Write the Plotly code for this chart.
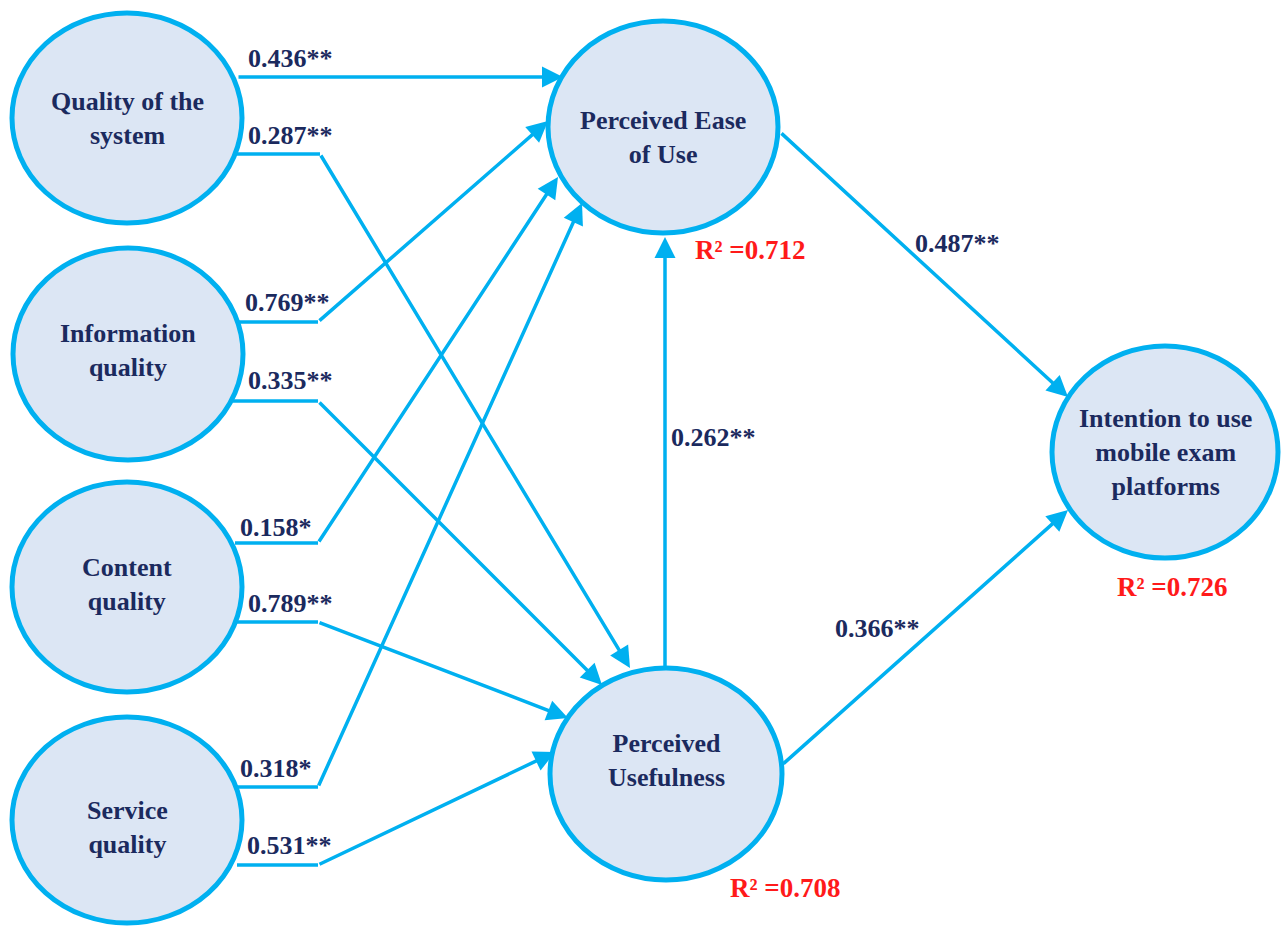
import plotly.graph_objects as go

# ---------------- data ----------------
node_names = ["QS", "IQ", "CQ", "SQ", "PEU", "PU", "INT"]
node_labels = ["Quality of the<br>system", "Information<br>quality", "Content<br>quality",
               "Service<br>quality", "Perceived Ease<br>of Use", "Perceived<br>Usefulness",
               "Intention to use<br>mobile exam<br>platforms"]
path_sources = ["QS", "QS", "IQ", "IQ", "CQ", "CQ", "SQ", "SQ", "PU", "PEU", "PU"]
path_targets = ["PEU", "PU", "PEU", "PU", "PEU", "PU", "PEU", "PU", "PEU", "INT", "INT"]
path_coefs = ["0.436**", "0.287**", "0.769**", "0.335**", "0.158*", "0.789**",
              "0.318*", "0.531**", "0.262**", "0.487**", "0.366**"]
r2_nodes = ["PEU", "PU", "INT"]
r2_values = ["0.712", "0.708", "0.726"]

# ---------------- layout geometry (pixels) ----------------
W, H = 1285, 927
node_geom = {  # cx, cy, rx, ry, text_cy
    "QS": (127, 118, 115, 105, 118),
    "IQ": (128, 354, 115, 106, 350),
    "CQ": (127, 587, 115, 105, 584),
    "SQ": (127, 820, 115, 103, 827),
    "PEU": (663, 127, 115, 106, 137),
    "PU": (666, 774, 116, 106, 760),
    "INT": (1165, 452, 113, 106, 452),
}
path_points = [
    [(237, 77), (563, 77)],
    [(237, 154), (320, 154), (630, 668)],
    [(237, 322), (318, 322), (548, 121)],
    [(233, 401), (318, 401), (602, 685)],
    [(235, 543), (318, 543), (558, 177)],
    [(237, 622), (318, 622), (568, 718)],
    [(237, 787), (318, 787), (582, 203)],
    [(237, 865), (318, 865), (555, 752)],
    [(665, 668), (665, 237)],
    [(780, 132), (1068, 397)],
    [(782, 765), (1068, 510)],
]
coef_pos = [(290, 58), (290, 135), (287, 302), (290, 380), (276, 527), (290, 603),
            (276, 768), (289, 845), (713, 437), (957, 243), (877, 628)]
r2_pos = [(750, 250), (785, 888), (1172, 587)]

LINE = "#00b0f0"
FILL = "#dce6f4"
NAVY = "#1b2a5e"
RED = "#ff1a1a"
FONT = "Liberation Serif"

fig = go.Figure()
shapes = []
annotations = []

# ellipses
for name, lab in zip(node_names, node_labels):
    cx, cy, rx, ry, ty = node_geom[name]
    shapes.append(dict(type="circle", xref="x", yref="y", x0=cx - rx, x1=cx + rx,
                       y0=cy - ry, y1=cy + ry, fillcolor=FILL,
                       line=dict(color=LINE, width=5), layer="above"))
    annotations.append(dict(x=cx, y=ty, xref="x", yref="y", text=lab, showarrow=False,
                            font=dict(family=FONT, size=26, color=NAVY, weight="bold"),
                            align="center"))

# paths
for pts, coef, lp in zip(path_points, path_coefs, coef_pos):
    for (x0, y0), (x1, y1) in zip(pts[:-2], pts[1:-1]):
        shapes.append(dict(type="line", xref="x", yref="y", x0=x0, y0=y0, x1=x1, y1=y1,
                           line=dict(color=LINE, width=3.5), layer="below"))
    (ax, ay), (x, y) = pts[-2], pts[-1]
    annotations.append(dict(x=x, y=y, ax=ax, ay=ay, xref="x", yref="y", axref="x", ayref="y",
                            text="", showarrow=True, arrowhead=2, arrowsize=1.2,
                            arrowwidth=3.5, arrowcolor=LINE, standoff=0, startstandoff=0))
    annotations.append(dict(x=lp[0], y=lp[1], xref="x", yref="y", text=coef, showarrow=False,
                            font=dict(family=FONT, size=26, color=NAVY, weight="bold")))

# R squared
for n, v, p in zip(r2_nodes, r2_values, r2_pos):
    annotations.append(dict(x=p[0], y=p[1], xref="x", yref="y",
                            text="R\u00b2 =" + v, showarrow=False,
                            font=dict(family=FONT, size=27, color=RED, weight="bold")))

fig.update_layout(
    width=W, height=H, margin=dict(l=0, r=0, t=0, b=0),
    paper_bgcolor="white", plot_bgcolor="white",
    xaxis=dict(range=[0, W], visible=False, fixedrange=True),
    yaxis=dict(range=[H, 0], visible=False, fixedrange=True),
    shapes=shapes, annotations=annotations, showlegend=False,
)
fig.write_html("out.html", config={"displayModeBar": False, "staticPlot": True})

# remove default browser body margin so the figure sits at the page origin
with open("out.html", "r", encoding="utf-8") as f:
    html = f.read()
html = html.replace("<body>", '<body style="margin:0;overflow:hidden">', 1)
with open("out.html", "w", encoding="utf-8") as f:
    f.write(html)
